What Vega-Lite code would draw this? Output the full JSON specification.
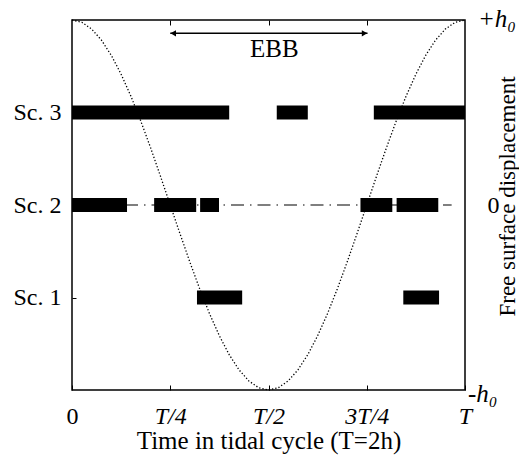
{
  "$schema": "https://vega.github.io/schema/vega-lite/v6.json",
  "width": 393,
  "height": 370,
  "autosize": {"type": "none"},
  "padding": {"left": 72, "top": 20, "right": 54, "bottom": 69},
  "background": "white",
  "config": {
    "font": "Liberation Serif",
    "view": {"stroke": "black", "strokeWidth": 1.5},
    "axis": {
      "domain": false,
      "grid": false,
      "labelFont": "Liberation Serif",
      "titleFont": "Liberation Serif",
      "labelColor": "black",
      "titleColor": "black",
      "tickColor": "black",
      "labelFontSize": 24,
      "titleFontSize": 24,
      "titleFontWeight": "normal"
    }
  },
  "datasets": {
    "bars": [
      {"scenario": "Sc. 3", "start": 0.0, "end": 0.400},
      {"scenario": "Sc. 3", "start": 0.521, "end": 0.600},
      {"scenario": "Sc. 3", "start": 0.768, "end": 1.0},
      {"scenario": "Sc. 2", "start": 0.0, "end": 0.140},
      {"scenario": "Sc. 2", "start": 0.209, "end": 0.316},
      {"scenario": "Sc. 2", "start": 0.326, "end": 0.374},
      {"scenario": "Sc. 2", "start": 0.734, "end": 0.815},
      {"scenario": "Sc. 2", "start": 0.826, "end": 0.932},
      {"scenario": "Sc. 1", "start": 0.318, "end": 0.433},
      {"scenario": "Sc. 1", "start": 0.843, "end": 0.934}
    ],
    "surface": [
      {"t": 0.0, "eta": 1.0},
      {"t": 0.025, "eta": 0.9877},
      {"t": 0.05, "eta": 0.9511},
      {"t": 0.075, "eta": 0.891},
      {"t": 0.1, "eta": 0.809},
      {"t": 0.125, "eta": 0.7071},
      {"t": 0.15, "eta": 0.5878},
      {"t": 0.175, "eta": 0.454},
      {"t": 0.2, "eta": 0.309},
      {"t": 0.225, "eta": 0.1564},
      {"t": 0.25, "eta": 0.0},
      {"t": 0.275, "eta": -0.1564},
      {"t": 0.3, "eta": -0.309},
      {"t": 0.325, "eta": -0.454},
      {"t": 0.35, "eta": -0.5878},
      {"t": 0.375, "eta": -0.7071},
      {"t": 0.4, "eta": -0.809},
      {"t": 0.425, "eta": -0.891},
      {"t": 0.45, "eta": -0.9511},
      {"t": 0.475, "eta": -0.9877},
      {"t": 0.5, "eta": -1.0},
      {"t": 0.525, "eta": -0.9877},
      {"t": 0.55, "eta": -0.9511},
      {"t": 0.575, "eta": -0.891},
      {"t": 0.6, "eta": -0.809},
      {"t": 0.625, "eta": -0.7071},
      {"t": 0.65, "eta": -0.5878},
      {"t": 0.675, "eta": -0.454},
      {"t": 0.7, "eta": -0.309},
      {"t": 0.725, "eta": -0.1564},
      {"t": 0.75, "eta": 0.0},
      {"t": 0.775, "eta": 0.1564},
      {"t": 0.8, "eta": 0.309},
      {"t": 0.825, "eta": 0.454},
      {"t": 0.85, "eta": 0.5878},
      {"t": 0.875, "eta": 0.7071},
      {"t": 0.9, "eta": 0.809},
      {"t": 0.925, "eta": 0.891},
      {"t": 0.95, "eta": 0.9511},
      {"t": 0.975, "eta": 0.9877},
      {"t": 1.0, "eta": 1.0}
    ],
    "mean_level": [{"start": 0.0, "end": 0.966, "eta": 0.0}],
    "ebb": [{"label": "EBB", "start": 0.25, "end": 0.752, "mid": 0.515, "eta": 0.928, "text_eta": 0.845}],
    "extremes": [
      {"label": "+h₀", "t": 1.0, "eta": 1.0},
      {"label": "-h₀", "t": 1.0, "eta": -1.0}
    ]
  },
  "layer": [
    {
      "data": {"name": "surface"},
      "mark": {"type": "line", "color": "black", "strokeWidth": 1.3, "strokeDash": [1.3, 2]},
      "encoding": {
        "x": {
          "field": "t", "type": "quantitative",
          "scale": {"domain": [0, 1], "nice": false},
          "axis": {
            "orient": "bottom",
            "values": [0, 0.25, 0.5, 0.75, 1],
            "labelExpr": "datum.value == 0 ? '0' : datum.value == 0.25 ? 'T/4' : datum.value == 0.5 ? 'T/2' : datum.value == 0.75 ? '3T/4' : 'T'",
            "labelFontStyle": {"condition": {"test": "datum.value == 0", "value": "normal"}, "value": "italic"},
            "tickSize": -5,
            "labelPadding": 19,
            "labelFlush": false,
            "labelOverlap": false,
            "title": "Time in tidal cycle (T=2h)",
            "titleFontSize": 25,
            "titlePadding": 0
          }
        },
        "y": {
          "field": "eta", "type": "quantitative",
          "scale": {"domain": [-1, 1], "nice": false},
          "axis": {
            "orient": "right",
            "values": [0],
            "labelExpr": "'0'",
            "tickSize": 0,
            "labelPadding": 22,
            "title": "Free surface displacement",
            "titleFontSize": 23,
            "titleAngle": 270,
            "titleY": 176,
            "titlePadding": 20
          }
        }
      }
    },
    {
      "data": {"name": "mean_level"},
      "mark": {"type": "rule", "color": "black", "strokeWidth": 1.2, "strokeDash": [13, 6, 1.5, 6]},
      "encoding": {
        "x": {"field": "start", "type": "quantitative", "scale": {"domain": [0, 1], "nice": false}, "axis": null},
        "x2": {"field": "end"},
        "y": {"field": "eta", "type": "quantitative", "scale": {"domain": [-1, 1], "nice": false}, "axis": null}
      }
    },
    {
      "data": {"name": "bars"},
      "mark": {"type": "rule", "color": "black", "strokeWidth": 14, "strokeCap": "butt"},
      "encoding": {
        "x": {
          "field": "start", "type": "quantitative",
          "scale": {"domain": [0, 1], "nice": false},
          "axis": {
            "orient": "top",
            "values": [0.25, 0.5, 0.75],
            "labels": false,
            "tickSize": -5,
            "title": null
          }
        },
        "x2": {"field": "end"},
        "y": {
          "field": "scenario", "type": "ordinal",
          "sort": ["Sc. 3", "Sc. 2", "Sc. 1"],
          "scale": {"type": "point", "padding": 1},
          "axis": {"orient": "left", "tickSize": -4, "labelPadding": 15, "title": null}
        }
      }
    },
    {
      "data": {"name": "ebb"},
      "mark": {"type": "rule", "color": "black", "strokeWidth": 1.5},
      "encoding": {
        "x": {"field": "start", "type": "quantitative", "scale": {"domain": [0, 1], "nice": false}, "axis": null},
        "x2": {"field": "end"},
        "y": {"field": "eta", "type": "quantitative", "scale": {"domain": [-1, 1], "nice": false}, "axis": null}
      }
    },
    {
      "data": {"name": "ebb"},
      "mark": {"type": "point", "shape": "triangle-left", "filled": true, "color": "black", "size": 40, "opacity": 1, "xOffset": 3},
      "encoding": {
        "x": {"field": "start", "type": "quantitative", "scale": {"domain": [0, 1], "nice": false}, "axis": null},
        "y": {"field": "eta", "type": "quantitative", "scale": {"domain": [-1, 1], "nice": false}, "axis": null}
      }
    },
    {
      "data": {"name": "ebb"},
      "mark": {"type": "point", "shape": "triangle-right", "filled": true, "color": "black", "size": 40, "opacity": 1, "xOffset": -3},
      "encoding": {
        "x": {"field": "end", "type": "quantitative", "scale": {"domain": [0, 1], "nice": false}, "axis": null},
        "y": {"field": "eta", "type": "quantitative", "scale": {"domain": [-1, 1], "nice": false}, "axis": null}
      }
    },
    {
      "data": {"name": "ebb"},
      "mark": {"type": "text", "font": "Liberation Serif", "fontSize": 25, "color": "black", "align": "center", "baseline": "middle"},
      "encoding": {
        "x": {"field": "mid", "type": "quantitative", "scale": {"domain": [0, 1], "nice": false}, "axis": null},
        "y": {"field": "text_eta", "type": "quantitative", "scale": {"domain": [-1, 1], "nice": false}, "axis": null},
        "text": {"field": "label"}
      }
    },
    {
      "data": {"name": "extremes"},
      "transform": [{"filter": "datum.eta > 0"}],
      "mark": {"type": "text", "font": "Liberation Serif", "fontSize": 25, "fontStyle": "italic", "color": "black", "align": "left", "baseline": "middle", "dx": 13, "dy": -1},
      "encoding": {
        "x": {"field": "t", "type": "quantitative", "scale": {"domain": [0, 1], "nice": false}, "axis": null},
        "y": {"field": "eta", "type": "quantitative", "scale": {"domain": [-1, 1], "nice": false}, "axis": null},
        "text": {"field": "label"}
      }
    },
    {
      "data": {"name": "extremes"},
      "transform": [{"filter": "datum.eta < 0"}],
      "mark": {"type": "text", "font": "Liberation Serif", "fontSize": 25, "fontStyle": "italic", "color": "black", "align": "left", "baseline": "middle", "dx": 3, "dy": 4},
      "encoding": {
        "x": {"field": "t", "type": "quantitative", "scale": {"domain": [0, 1], "nice": false}, "axis": null},
        "y": {"field": "eta", "type": "quantitative", "scale": {"domain": [-1, 1], "nice": false}, "axis": null},
        "text": {"field": "label"}
      }
    }
  ],
  "resolve": {
    "scale": {"y": "independent"},
    "axis": {"x": "independent", "y": "independent"}
  }
}
